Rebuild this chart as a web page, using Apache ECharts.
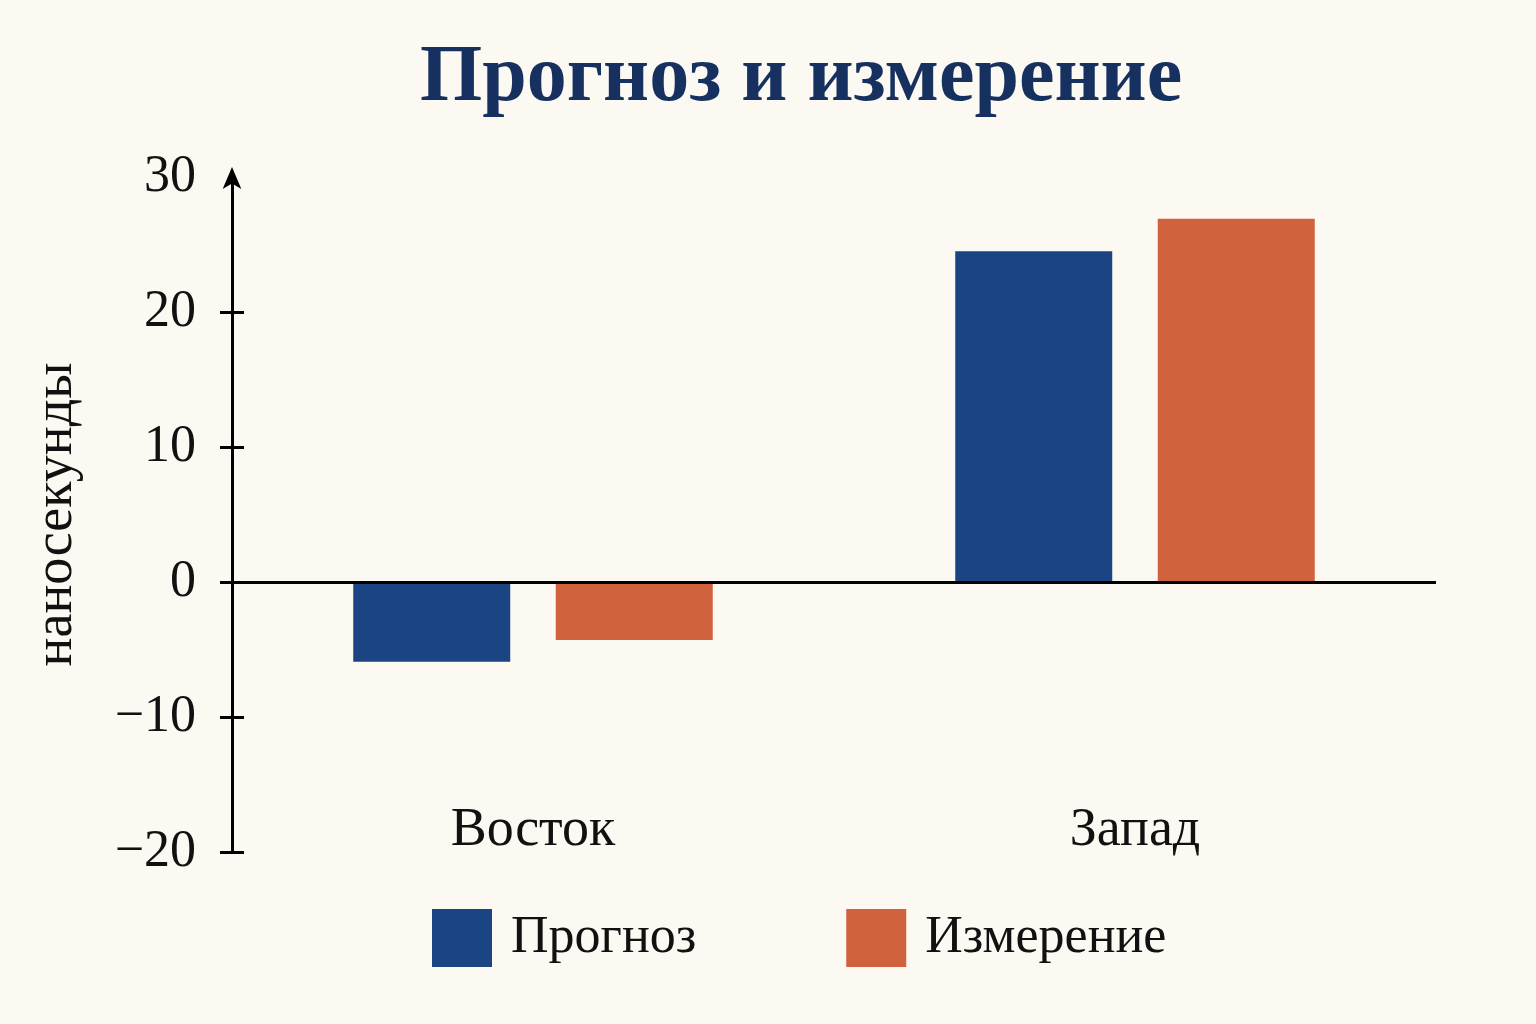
<!DOCTYPE html>
<html>
<head>
<meta charset="utf-8">
<title>Прогноз и измерение</title>
<script src="https://cdn.jsdelivr.net/npm/echarts@6/dist/echarts.min.js"></script>
<style>
  html, body { margin: 0; padding: 0; background: #fcf8f2; }
  #chart { width: 1536px; height: 1024px; }
</style>
</head>
<body>
<div id="chart"></div>
<script>
var regions = ['Восток', 'Запад'];
var forecast = [-5.9, 24.5];     // Прогноз
var measured = [-4.3, 26.9];     // Измерение
var yTicks = [-20, -10, 0, 10, 20, 30];
var tickMarks = [-20, -10, 0, 10, 20];

var serif = '"Liberation Serif", "DejaVu Serif", serif';
var blue = '#1a4482';
var orange = '#d0623e';

var myChart = echarts.init(document.getElementById('chart'));

var option = {
    backgroundColor: '#fcf8f2',
    title: {
        text: 'Прогноз и измерение',
        left: 415,
        top: 34,
        textStyle: { fontFamily: serif, fontSize: 80, fontWeight: 'bold', color: '#16315f' }
    },
    legend: {
        bottom: 52,
        left: 427,
        icon: 'rect',
        itemWidth: 60,
        itemHeight: 58,
        itemGap: 150,
        textStyle: { fontFamily: serif, fontSize: 52, color: '#111', padding: [0, 0, 0, 14] },
        data: ['Прогноз', 'Измерение']
    },
    grid: { left: 232, right: 100, top: 177, bottom: 172 },
    xAxis: {
        type: 'category',
        data: regions,
        axisLine: { show: false, onZero: false },
        axisTick: { show: false },
        axisLabel: { fontFamily: serif, fontSize: 54, color: '#111', margin: -48 }
    },
    yAxis: [
        {
            type: 'value',
            min: -20, max: 30, interval: 10,
            name: 'наносекунды',
            nameLocation: 'middle',
            nameGap: 148,
            nameTextStyle: { fontFamily: serif, fontSize: 54, color: '#111' },
            splitLine: { show: false },
            axisLine: { show: true, lineStyle: { color: '#000', width: 3 },
                        symbol: ['none', 'arrow'], symbolSize: [14, 22], symbolOffset: [0, 10] },
            axisTick: { show: true, length: 12, lineStyle: { color: '#000', width: 3 },
                        customValues: tickMarks },
            axisLabel: { fontFamily: serif, fontSize: 52, color: '#111', margin: 36,
                         customValues: yTicks,
                         formatter: function (v) { return v < 0 ? '\u2212' + Math.abs(v) : String(v); } }
        },
        {
            type: 'value',
            min: -20, max: 30, interval: 10,
            position: 'left',
            splitLine: { show: false },
            axisLine: { show: false },
            axisLabel: { show: false },
            axisTick: { show: true, inside: true, length: 12, lineStyle: { color: '#000', width: 3 },
                        customValues: tickMarks }
        }
    ],
    series: [
        {
            name: 'Прогноз',
            type: 'bar',
            data: forecast,
            barWidth: 157,
            barGap: '29%',
            itemStyle: { color: blue },
            markLine: {
                silent: true,
                symbol: 'none',
                label: { show: false },
                lineStyle: { color: '#000', width: 3, type: 'solid' },
                data: [{ yAxis: 0 }]
            }
        },
        {
            name: 'Измерение',
            type: 'bar',
            data: measured,
            barWidth: 157,
            itemStyle: { color: orange }
        }
    ]
};

myChart.setOption(option);
</script>
</body>
</html>
